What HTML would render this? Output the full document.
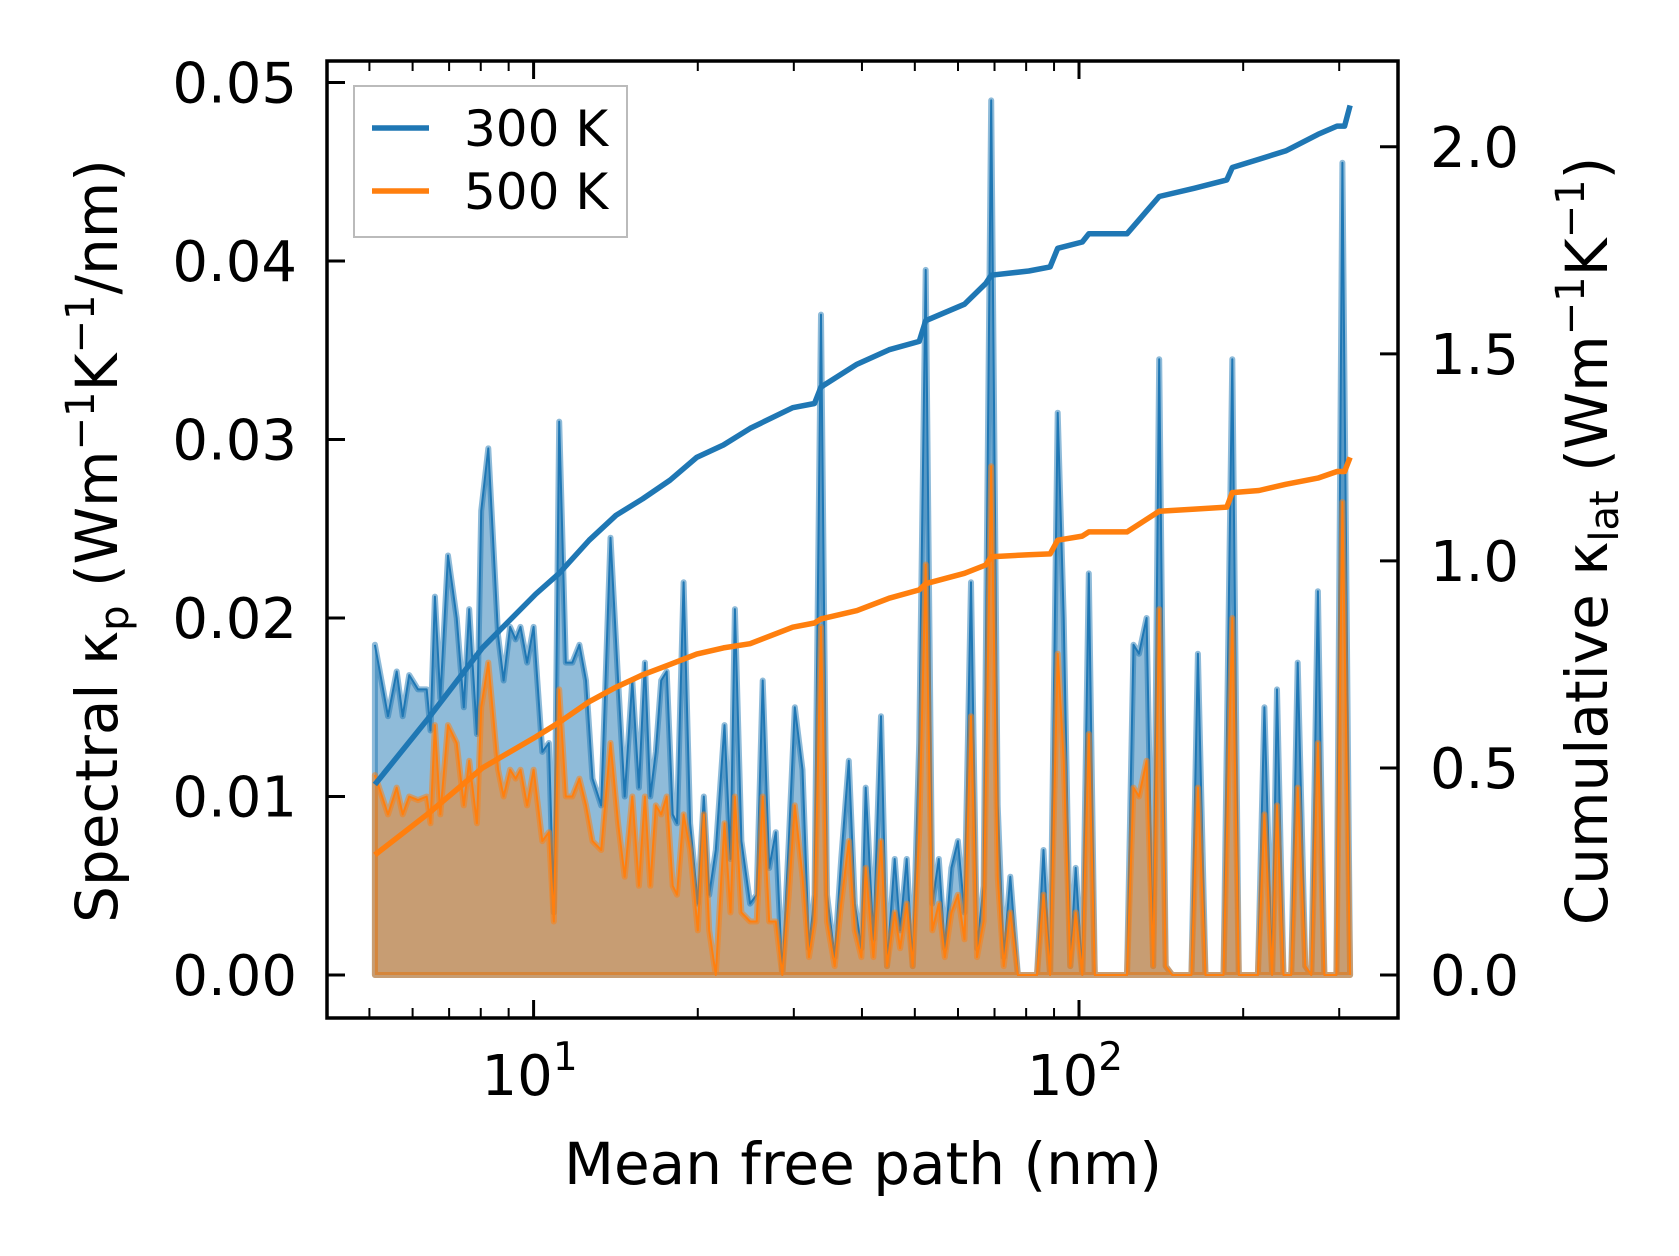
<!DOCTYPE html>
<html><head><meta charset="utf-8"><style>
html,body{margin:0;padding:0;background:#fff;}
svg{display:block;font-family:"DejaVu Sans","Liberation Sans",sans-serif;}
</style></head><body>
<svg id="chart" width="1679" height="1256" viewBox="0 0 1679 1256" xmlns="http://www.w3.org/2000/svg">
<rect width="1679" height="1256" fill="#fff"/>
<g id="plot"></g>
<g id="axes"></g>
</svg>
<script>
// log10 of mean free path (nm) for spectral bins
const log10Mfp = [0.709,0.733,0.749,0.760,0.772,0.788,0.804,0.811,0.819,0.829,0.843,0.859,0.872,0.882,0.896,0.904,0.917,0.935,0.945,0.957,0.967,0.976,0.988,1.000,1.016,1.028,1.037,1.047,1.059,1.071,1.084,1.096,1.108,1.124,1.141,1.155,1.167,1.181,1.193,1.204,1.214,1.224,1.234,1.244,1.255,1.263,1.275,1.287,1.301,1.312,1.322,1.334,1.350,1.361,1.369,1.381,1.397,1.409,1.420,1.432,1.444,1.456,1.468,1.479,1.493,1.505,1.515,1.527,1.538,1.552,1.564,1.578,1.589,1.601,1.609,1.623,1.637,1.648,1.662,1.672,1.684,1.695,1.707,1.719,1.731,1.743,1.754,1.766,1.778,1.790,1.802,1.813,1.825,1.839,1.851,1.862,1.874,1.888,1.908,1.923,1.935,1.947,1.961,1.972,1.984,1.994,2.006,2.018,2.029,2.088,2.100,2.110,2.124,2.136,2.147,2.159,2.171,2.206,2.218,2.232,2.265,2.281,2.293,2.328,2.340,2.354,2.363,2.375,2.389,2.401,2.415,2.426,2.438,2.450,2.472,2.483,2.497];
const spectral300 = [0.0185,0.0145,0.017,0.0145,0.0168,0.016,0.016,0.0137,0.0212,0.0155,0.0235,0.02,0.015,0.0205,0.0135,0.026,0.0295,0.019,0.0165,0.0195,0.0188,0.0195,0.0175,0.0195,0.0125,0.013,0.0035,0.031,0.0175,0.0175,0.0185,0.0165,0.011,0.0095,0.0245,0.0165,0.010,0.0165,0.0105,0.0175,0.010,0.0125,0.0165,0.017,0.009,0.0085,0.022,0.0085,0.004,0.010,0.0045,0.007,0.014,0.0065,0.0205,0.0075,0.004,0.0045,0.0165,0.006,0.008,0.0,0.0075,0.015,0.0115,0.0015,0.0045,0.037,0.0045,0.001,0.0065,0.012,0.004,0.0015,0.0105,0.002,0.0145,0.0005,0.0065,0.0025,0.0065,0.0005,0.013,0.0395,0.004,0.0065,0.0015,0.006,0.0075,0.0035,0.022,0.0015,0.005,0.049,0.0095,0.001,0.0055,0,0,0,0.007,0,0.0315,0.020,0.0005,0.006,0,0.0225,0,0,0.0185,0.018,0.020,0.0005,0.0345,0.0005,0,0,0.018,0,0,0.0345,0,0,0.015,0,0.016,0,0,0.0175,0.0005,0,0.0215,0,0,0.0455,0];
const spectral500 = [0.0112,0.009,0.0105,0.009,0.010,0.0098,0.010,0.0085,0.014,0.009,0.014,0.013,0.0095,0.012,0.0085,0.015,0.0175,0.0115,0.010,0.0115,0.011,0.0115,0.0095,0.0115,0.0075,0.008,0.003,0.016,0.010,0.010,0.011,0.0095,0.0075,0.007,0.013,0.0085,0.0055,0.010,0.005,0.010,0.005,0.0095,0.009,0.010,0.005,0.0045,0.009,0.007,0.0025,0.009,0.0025,0.0,0.0085,0.0035,0.010,0.0035,0.003,0.003,0.010,0.003,0.003,0,0.0045,0.0095,0.0055,0.001,0.003,0.0195,0.003,0.0005,0.004,0.0075,0.0025,0.001,0.006,0.001,0.0075,0.0005,0.0035,0.0015,0.004,0.0005,0.008,0.023,0.0025,0.004,0.001,0.0035,0.0045,0.002,0.0145,0.001,0.003,0.0285,0.0055,0.0005,0.0035,0,0,0,0.0045,0,0.018,0.012,0.0005,0.0035,0,0.0135,0,0,0.0105,0.010,0.012,0.0005,0.0205,0.0005,0,0,0.0105,0,0,0.020,0,0,0.009,0,0.0095,0,0,0.0105,0.0005,0,0.013,0,0,0.0265,0];
// cumulative curves
const log10MfpCum = [0.709,0.807,0.906,1.004,1.047,1.102,1.151,1.200,1.250,1.299,1.348,1.397,1.475,1.515,1.527,1.593,1.652,1.707,1.719,1.790,1.829,1.839,1.908,1.947,1.961,2.006,2.018,2.088,2.147,2.212,2.271,2.281,2.330,2.379,2.438,2.473,2.487,2.497];
const cumulative300 = [0.46,0.62,0.79,0.92,0.97,1.05,1.11,1.15,1.195,1.25,1.28,1.32,1.37,1.38,1.42,1.475,1.51,1.53,1.58,1.62,1.67,1.69,1.70,1.71,1.755,1.77,1.79,1.79,1.88,1.90,1.92,1.95,1.97,1.99,2.03,2.05,2.05,2.10];
const cumulative500 = [0.29,0.39,0.50,0.575,0.61,0.66,0.695,0.725,0.75,0.775,0.79,0.80,0.84,0.85,0.86,0.88,0.91,0.93,0.945,0.97,0.99,1.01,1.015,1.017,1.05,1.06,1.07,1.07,1.12,1.125,1.13,1.165,1.17,1.185,1.20,1.216,1.216,1.25];
const leftTicks = [0,0.01,0.02,0.03,0.04,0.05];
const leftTickLabels = ["0.00","0.01","0.02","0.03","0.04","0.05"];
const rightTicks = [0,0.5,1.0,1.5,2.0];
const rightTickLabels = ["0.0","0.5","1.0","1.5","2.0"];
const xMajorExp = [1,2];
const xMinor = [5,6,7,8,9,20,30,40,50,60,70,80,90,200,300];

const NS="http://www.w3.org/2000/svg";
const L=327,R=1398,T=61,B=1018;
const xs = lg => 533.6 + (lg-1)*545.4;
const yl = v => 975 - v*17850;
const yr = v => 975 - v*414.1;
function mk(tag,attrs,parent){const e=document.createElementNS(NS,tag);for(const k in attrs)e.setAttribute(k,attrs[k]);parent.appendChild(e);return e;}
const plot=document.getElementById('plot'), axes=document.getElementById('axes');

function drawSpectral(vals,color,name){
  let pts=log10Mfp.map((lg,i)=>xs(lg).toFixed(1)+','+yl(vals[i]).toFixed(1));
  const x0=xs(log10Mfp[0]).toFixed(1), x1=xs(log10Mfp[log10Mfp.length-1]).toFixed(1), y0=yl(0).toFixed(1);
  const area=mk('path',{d:'M'+x0+','+y0+' L'+pts.join(' L')+' L'+x1+','+y0+' Z',fill:color,'fill-opacity':0.5,stroke:color,'stroke-opacity':0.5,'stroke-width':6,'stroke-linejoin':'round'},plot);
  
  
  const ln=mk('polyline',{points:pts.join(' '),fill:'none',stroke:color,'stroke-width':2,'stroke-linejoin':'round'},plot);
  
  
}
drawSpectral(spectral300,'#1f77b4','spectral-300k');
drawSpectral(spectral500,'#ff7f0e','spectral-500k');

function drawCum(vals,color,name){
  const pts=log10MfpCum.map((lg,i)=>xs(lg).toFixed(1)+','+yr(vals[i]).toFixed(1));
  const ln=mk('polyline',{points:pts.join(' '),fill:'none',stroke:color,'stroke-width':5.5,'stroke-linejoin':'round'},plot);
  
  
}
drawCum(cumulative300,'#1f77b4','cumulative-300k');
drawCum(cumulative500,'#ff7f0e','cumulative-500k');

// ticks
leftTicks.forEach((v,i)=>{
  const y=yl(v);
  mk('line',{x1:L,x2:L+18,y1:y,y2:y,stroke:'#000','stroke-width':3},axes);
  const t=mk('text',{x:297,y:y+20,'text-anchor':'end','font-size':56},axes);t.textContent=leftTickLabels[i];
  
  
});
rightTicks.forEach((v,i)=>{
  const y=yr(v);
  mk('line',{x1:R-18,x2:R,y1:y,y2:y,stroke:'#000','stroke-width':3},axes);
  const t=mk('text',{x:1430,y:y+20,'font-size':56},axes);t.textContent=rightTickLabels[i];
  
  
});
xMajorExp.forEach(e=>{
  const x=xs(e);
  mk('line',{x1:x,x2:x,y1:B,y2:B-18,stroke:'#000','stroke-width':3},axes);
  mk('line',{x1:x,x2:x,y1:T,y2:T+18,stroke:'#000','stroke-width':3},axes);
  const t=mk('text',{x:x-4,y:1095,'text-anchor':'middle','font-size':56},axes);
  
  
  t.appendChild(document.createTextNode('10'));
  const s=mk('tspan',{dy:-25,'font-size':39},t);s.textContent=String(e);
});
xMinor.forEach(m=>{
  const x=xs(Math.log10(m));
  mk('line',{x1:x,x2:x,y1:B,y2:B-10,stroke:'#000','stroke-width':2},axes);
  mk('line',{x1:x,x2:x,y1:T,y2:T+10,stroke:'#000','stroke-width':2},axes);
});
</script>
<svg style="position:absolute;left:0;top:0" width="1679" height="1256" xmlns="http://www.w3.org/2000/svg">
<rect x="327" y="61" width="1071" height="957" fill="none" stroke="#000" stroke-width="3.5"/>
<g>
<rect x="354" y="86" width="273" height="151" fill="#fff" fill-opacity="0.8" stroke="#bbb" stroke-width="2"/>
<line x1="372" y1="128" x2="429" y2="128" stroke="#1f77b4" stroke-width="5.5"/>
<text x="464" y="146" font-size="50" font-family="DejaVu Sans, Liberation Sans, sans-serif">300 K</text>
<line x1="372" y1="191" x2="429" y2="191" stroke="#ff7f0e" stroke-width="5.5"/>
<text x="464" y="209" font-size="50" font-family="DejaVu Sans, Liberation Sans, sans-serif">500 K</text>
</g>
<text x="863" y="1184" text-anchor="middle" font-size="58" font-family="DejaVu Sans, Liberation Sans, sans-serif">Mean free path (nm)</text>
<text transform="translate(117,541) rotate(-90)" text-anchor="middle" font-size="58" font-family="DejaVu Sans, Liberation Sans, sans-serif">Spectral κ<tspan font-size="40" dy="11">p</tspan><tspan dy="-11"> (Wm</tspan><tspan font-size="40" dy="-23">−1</tspan><tspan dy="23">K</tspan><tspan font-size="40" dy="-23">−1</tspan><tspan dy="23">/nm)</tspan></text>
<text transform="translate(1607,541) rotate(-90)" text-anchor="middle" font-size="58" font-family="DejaVu Sans, Liberation Sans, sans-serif">Cumulative κ<tspan font-size="40" dy="11">lat</tspan><tspan dy="-11"> (Wm</tspan><tspan font-size="40" dy="-23">−1</tspan><tspan dy="23">K</tspan><tspan font-size="40" dy="-23">−1</tspan><tspan dy="23">)</tspan></text>
</svg>
</body></html>
